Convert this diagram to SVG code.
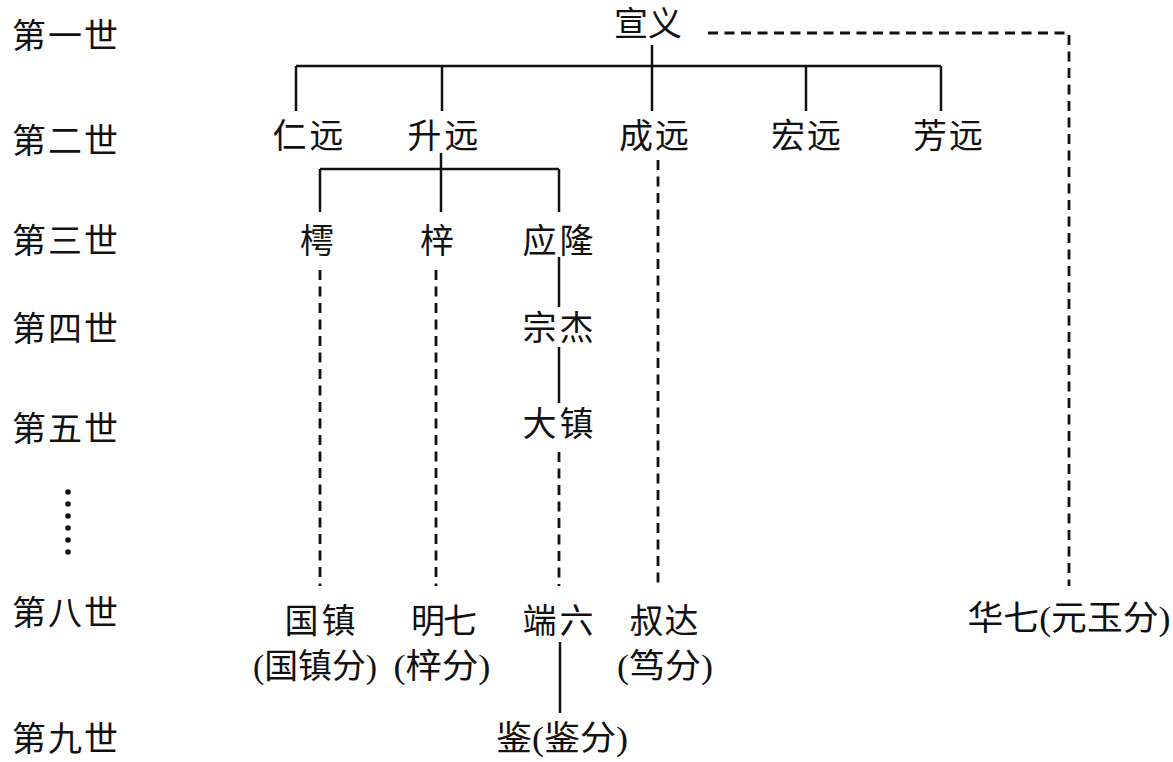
<svg xmlns="http://www.w3.org/2000/svg" width="1173" height="762" viewBox="0 0 1173 762">
<style>
text{font-family:"Liberation Serif","Noto Sans CJK SC",serif;font-size:34px;fill:#111;text-anchor:middle}
.s{fill:none;stroke:#111;stroke-width:2.5}
.d{fill:none;stroke:#111;stroke-width:2.8;stroke-dasharray:10 6.5}
</style>
<rect width="1173" height="762" fill="#fff"/>
<g id="generations">
<text x="65" y="48" textLength="106" lengthAdjust="spacing">第一世</text>
<text x="65" y="153" textLength="106" lengthAdjust="spacing">第二世</text>
<text x="65" y="253" textLength="106" lengthAdjust="spacing">第三世</text>
<text x="65" y="341" textLength="106" lengthAdjust="spacing">第四世</text>
<text x="65" y="441" textLength="106" lengthAdjust="spacing">第五世</text>
<g fill="#111"><circle cx="68" cy="492" r="2.8"/><circle cx="68" cy="504" r="2.8"/><circle cx="68" cy="516" r="2.8"/><circle cx="68" cy="528" r="2.8"/><circle cx="68" cy="540" r="2.8"/><circle cx="68" cy="552" r="2.8"/></g>
<text x="65" y="625" textLength="106" lengthAdjust="spacing">第八世</text>
<text x="65" y="751" textLength="106" lengthAdjust="spacing">第九世</text>
</g>
<g id="connectors">
<path class="s" d="M652 45V111M296 66H941M296 66V111M442 66V111M806 66V111M941 66V111"/>
<path class="s" d="M441 153V212M320 169H559M320 169V212M559 169V212"/>
<path class="s" d="M559 257V307M559 347V403M560 642V713"/>
<path class="d" d="M708 33H1069V586"/>
<path class="d" d="M658 160V586M320 270V586M436 270V586M559 452V586"/>
</g>
<g id="n-xuanyi"><text x="648" y="36" textLength="68" lengthAdjust="spacing">宣义</text></g>
<g id="n-renyuan"><text x="308" y="148" textLength="71" lengthAdjust="spacing">仁远</text></g>
<g id="n-shengyuan"><text x="443" y="148" textLength="71" lengthAdjust="spacing">升远</text></g>
<g id="n-chengyuan"><text x="654" y="148" textLength="70" lengthAdjust="spacing">成远</text></g>
<g id="n-hongyuan"><text x="806" y="148" textLength="70" lengthAdjust="spacing">宏远</text></g>
<g id="n-fangyuan"><text x="948" y="148" textLength="70" lengthAdjust="spacing">芳远</text></g>
<g id="n-chu"><text x="317" y="253">樗</text></g>
<g id="n-zi"><text x="437" y="253">梓</text></g>
<g id="n-yinglong"><text x="558" y="253" textLength="71" lengthAdjust="spacing">应隆</text></g>
<g id="n-zongjie"><text x="558" y="340" textLength="71" lengthAdjust="spacing">宗杰</text></g>
<g id="n-dazhen"><text x="558" y="436" textLength="71" lengthAdjust="spacing">大镇</text></g>
<g id="n-guozhen"><text x="320" y="633" textLength="71" lengthAdjust="spacing">国镇</text><text x="315" y="678" textLength="124" lengthAdjust="spacingAndGlyphs">(国镇分)</text></g>
<g id="n-mingqi"><text x="444" y="633" textLength="66" lengthAdjust="spacing">明七</text><text x="442" y="678" textLength="97" lengthAdjust="spacingAndGlyphs">(梓分)</text></g>
<g id="n-duanliu"><text x="558" y="633" textLength="71" lengthAdjust="spacing">端六</text></g>
<g id="n-shuda"><text x="664" y="633" textLength="69" lengthAdjust="spacing">叔达</text><text x="665" y="678" textLength="96" lengthAdjust="spacingAndGlyphs">(笃分)</text></g>
<g id="n-huaqi"><text x="1069" y="630" textLength="203" lengthAdjust="spacingAndGlyphs">华七(元玉分)</text></g>
<g id="n-jian"><text x="562" y="750" textLength="132" lengthAdjust="spacingAndGlyphs">鉴(鉴分)</text></g>
</svg>
